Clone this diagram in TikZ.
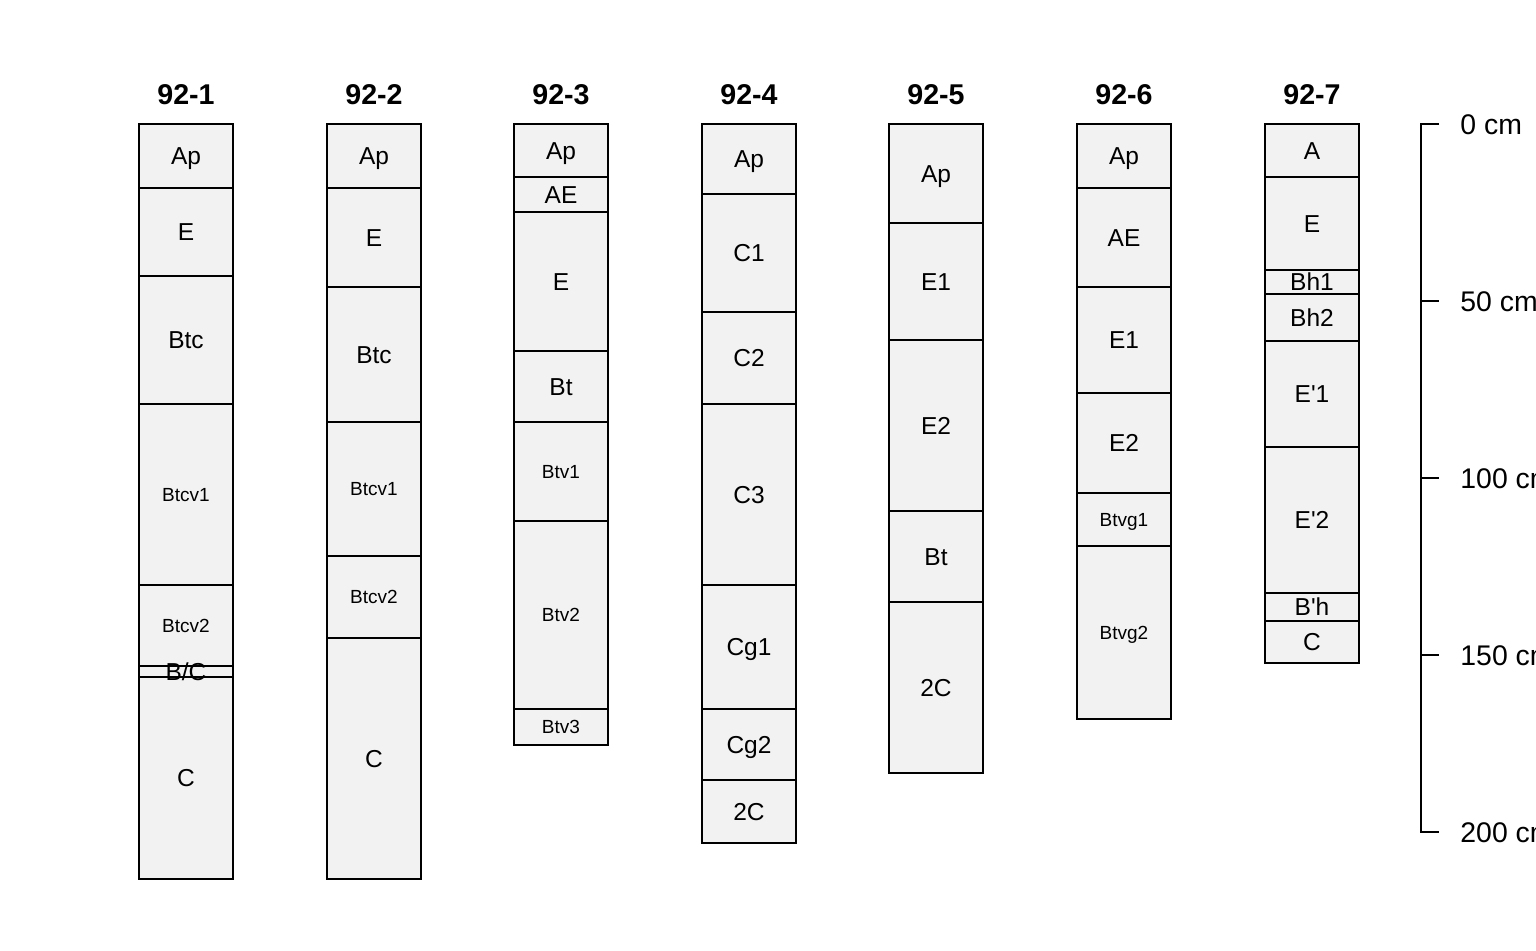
\documentclass[tikz,border=0pt]{standalone}
\usepackage{fontspec}
\setmainfont{Liberation Sans}[Ligatures=TeXOff]
\tikzset{
  px/.style={x=0.5pt,y=-0.5pt},
  hzfill/.style={fill=black!5},
  hzbox/.style={draw=black, line width=1pt, minimum width=47pt, inner sep=0pt, outer sep=0pt, anchor=north west},
  hzlabel/.style={inner sep=0pt, font=\fontsize{12.25}{14}\selectfont, text height=8.8pt, text depth=0pt},
  hzsmall/.style={font=\fontsize{9.5}{11}\selectfont, text height=6.8pt, text depth=0pt},
  ptitle/.style={inner sep=0pt, font=\bfseries\fontsize{14.3}{16}\selectfont, text height=10.2pt, text depth=0pt},
  scalelbl/.style={anchor=west, inner sep=0pt, font=\fontsize{14.2}{16}\selectfont, text height=10.2pt, text depth=0pt},
  scaleline/.style={line width=1pt, line cap=butt, line join=miter}
}
% horizon: name, x, top, bottom, label, label style
\newcommand\hz[6]{%
  \node[hzbox, minimum height={(#4-#3)*0.5pt}] (#1) at (#2,#3) {};
  \node[hzlabel,#6] (#1l) at (#1.center) {#5};
}
\newcommand\colfill[3]{% x, top, bottom
  \fill[hzfill] (#1,#2) rectangle ++(94,#3-#2);
}
\begin{document}
\begin{tikzpicture}[px]
\useasboundingbox (0,0) rectangle (1536,950);

% ---------- 92-1 ----------
\colfill{139}{124}{879}
\node[ptitle] (t1) at (186,94) {92-1};
\hz{a1}{139}{124}{188}{Ap}{}
\hz{a2}{139}{188}{276}{E}{}
\hz{a3}{139}{276}{404}{Btc}{}
\hz{a4}{139}{404}{585}{Btcv1}{hzsmall}
\hz{a5}{139}{585}{666}{Btcv2}{hzsmall}
\hz{a6}{139}{666}{677}{B/C}{}
\hz{a7}{139}{677}{879}{C}{}

% ---------- 92-2 ----------
\colfill{327}{124}{879}
\node[ptitle] (t2) at (374,94) {92-2};
\hz{b1}{327}{124}{188}{Ap}{}
\hz{b2}{327}{188}{287}{E}{}
\hz{b3}{327}{287}{422}{Btc}{}
\hz{b4}{327}{422}{556}{Btcv1}{hzsmall}
\hz{b5}{327}{556}{638}{Btcv2}{hzsmall}
\hz{b6}{327}{638}{879}{C}{}

% ---------- 92-3 ----------
\colfill{514}{124}{745}
\node[ptitle] (t3) at (561,94) {92-3};
\hz{c1}{514}{124}{177}{Ap}{}
\hz{c2}{514}{177}{212}{AE}{}
\hz{c3}{514}{212}{351}{E}{}
\hz{c4}{514}{351}{422}{Bt}{}
\hz{c5}{514}{422}{521}{Btv1}{hzsmall}
\hz{c6}{514}{521}{709}{Btv2}{hzsmall}
\hz{c7}{514}{709}{745}{Btv3}{hzsmall}

% ---------- 92-4 ----------
\colfill{702}{124}{843}
\node[ptitle] (t4) at (749,94) {92-4};
\hz{d1}{702}{124}{194}{Ap}{}
\hz{d2}{702}{194}{312}{C1}{}
\hz{d3}{702}{312}{404}{C2}{}
\hz{d4}{702}{404}{585}{C3}{}
\hz{d5}{702}{585}{709}{Cg1}{}
\hz{d6}{702}{709}{780}{Cg2}{}
\hz{d7}{702}{780}{843}{2C}{}

% ---------- 92-5 ----------
\colfill{889}{124}{773}
\node[ptitle] (t5) at (936,94) {92-5};
\hz{e1}{889}{124}{223}{Ap}{}
\hz{e2}{889}{223}{340}{E1}{}
\hz{e3}{889}{340}{511}{E2}{}
\hz{e4}{889}{511}{602}{Bt}{}
\hz{e5}{889}{602}{773}{2C}{}

% ---------- 92-6 ----------
\colfill{1077}{124}{719}
\node[ptitle] (t6) at (1124,94) {92-6};
\hz{f1}{1077}{124}{188}{Ap}{}
\hz{f2}{1077}{188}{287}{AE}{}
\hz{f3}{1077}{287}{393}{E1}{}
\hz{f4}{1077}{393}{493}{E2}{}
\hz{f5}{1077}{493}{546}{Btvg1}{hzsmall}
\hz{f6}{1077}{546}{719}{Btvg2}{hzsmall}

% ---------- 92-7 ----------
\colfill{1265}{124}{663}
\node[ptitle] (t7) at (1312,94) {92-7};
\hz{g1}{1265}{124}{177}{A}{}
\hz{g2}{1265}{177}{270}{E}{}
\hz{g3}{1265}{270}{294}{Bh1}{}
\hz{g4}{1265}{294}{341}{Bh2}{}
\hz{g5}{1265}{341}{447}{E'1}{}
\hz{g6}{1265}{447}{593}{E'2}{}
\hz{g7}{1265}{593}{621}{B'h}{}
\hz{g8}{1265}{621}{663}{C}{}

% ---------- depth scale ----------
\coordinate (s0) at (1421,124);
\coordinate (s50) at (1421,301);
\coordinate (s100) at (1421,478);
\coordinate (s150) at (1421,655);
\coordinate (s200) at (1421,832);
\draw[scaleline] ([xshift=9pt]s0) -- (s0) -- (s200) -- ([xshift=9pt]s200);
\draw[scaleline] (s50) -- ++(18,0);
\draw[scaleline] (s100) -- ++(18,0);
\draw[scaleline] (s150) -- ++(18,0);
\node[scalelbl] (l0) at (1460,124) {0 cm};
\node[scalelbl] (l50) at (1460,301) {50 cm};
\node[scalelbl] (l100) at (1460,478) {100 cm};
\node[scalelbl] (l150) at (1460,655) {150 cm};
\node[scalelbl] (l200) at (1460,832) {200 cm};
\end{tikzpicture}
\end{document}
